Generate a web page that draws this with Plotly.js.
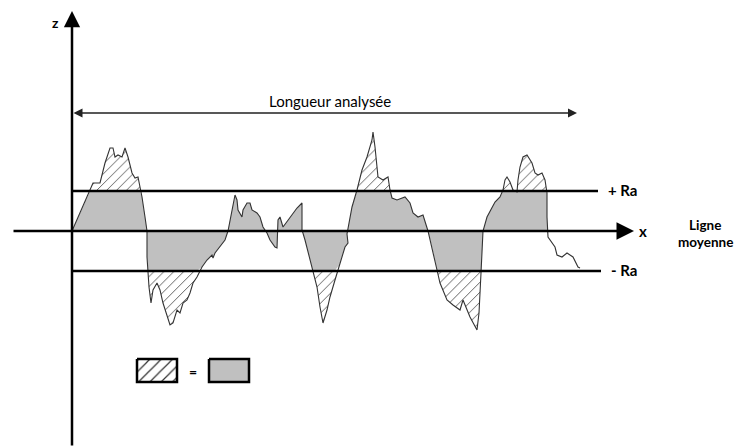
<!DOCTYPE html>
<html>
<head>
<meta charset="utf-8">
<script src="https://cdn.plot.ly/plotly-3.0.1.min.js"></script>
<style>html,body{margin:0;padding:0;background:#fff;}#chart{width:734px;height:447px;}</style>
</head>
<body>
<div id="chart"></div>
<script>
// Profile of the surface (x along the analysed length, z height vs. mean line)
const profileX = [0,18,21,28,33,38,41,43,46,50,53,56,60,63,66,68,70,73,75,75,76,77,79,81,85,88,91,95,98,101,105,108,111,115,118,121,125,130,135,140,141,143,148,153,156,158,161,163,165,166,170,171,175,178,180,185,188,191,195,198,203,205,206,208,211,218,225,230,230,233,238,241,245,248,251,255,258,263,268,273,276,275,280,285,290,295,300,301,303,306,311,316,318,320,325,333,338,341,346,351,356,360,365,368,375,381,388,391,398,405,407,409,411,415,420,423,428,431,433,435,438,441,445,446,448,451,455,460,463,466,470,473,475,475,476,480,483,485,490,495,501,506,508];
const profileZ = [0,41,48,48,68,83,83,74,76,74,83,74,58,53,54,44,34,14,0,-26,-39,-56,-72,-59,-52,-59,-72,-86,-94,-92,-79,-82,-72,-69,-62,-52,-46,-36,-29,-24,-27,-22,-16,-9,0,11,28,36,31,21,14,21,28,28,21,18,14,4,-2,-9,-16,-17,11,14,4,14,23,28,1,-9,-29,-42,-56,-76,-92,-79,-66,-49,-32,-16,-12,-3,24,41,61,74,91,99,84,54,51,54,41,33,31,34,28,18,14,16,0,-16,-39,-52,-69,-74,-79,-69,-86,-99,-82,-42,0,14,24,29,34,41,51,54,49,41,39,51,64,74,76,68,58,56,58,51,38,14,-6,-12,-16,-24,-26,-22,-26,-36,-37];
const RA = 40;                 // arithmetic mean roughness level
const fillEndX = 475;          // end of the shaded comparison zone
const analysedLength = [0, 505];
const textTitle = "Longueur analysée";
const labelPlusRa = "+ Ra";
const labelMinusRa = "- Ra";
const labelMean = ["Ligne", "moyenne"];

const idx = profileX.map((x,i)=>i).filter(i=>profileX[i] <= fillEndX);
const fx = idx.map(i=>profileX[i]);
const fz = idx.map(i=>profileZ[i]);
const clipped = fz.map(z=>Math.max(-RA, Math.min(RA, z)));
const base = fx.map(()=>0);

const traces = [
  {x: fx, y: base, mode:'lines', line:{width:0, color:'rgba(0,0,0,0)'}, hoverinfo:'skip', showlegend:false},
  {x: fx, y: clipped, mode:'lines', line:{width:0, color:'rgba(0,0,0,0)'}, fill:'tonexty', fillcolor:'#c0c0c0', hoverinfo:'skip', showlegend:false},
  {x: fx, y: fz, mode:'lines', line:{width:0, color:'rgba(0,0,0,0)'}, fill:'tonexty', fillcolor:'#ffffff',
   fillpattern:{shape:'/', fgcolor:'#555', bgcolor:'#ffffff', size:7, solidity:0.13}, hoverinfo:'skip', showlegend:false},
  {x: profileX, y: profileZ, mode:'lines', line:{width:1.1, color:'#333'}, hoverinfo:'skip', showlegend:false},
  // legend swatches
  {x:[65,105,105,65,65], y:[-128,-128,-151,-151,-128], mode:'lines', line:{width:2.5,color:'#000'}, fill:'toself', fillcolor:'#fff',
   fillpattern:{shape:'/', fgcolor:'#333', bgcolor:'#fff', size:8, solidity:0.15}, hoverinfo:'skip', showlegend:false},
  {x:[137,177,177,137,137], y:[-128,-128,-151,-151,-128], mode:'lines', line:{width:2.5,color:'#000'}, fill:'toself', fillcolor:'#c0c0c0', hoverinfo:'skip', showlegend:false}
];

const fnt = {family:'Lato, "Open Sans", sans-serif', size:14, color:'#000'};
const fntMean = {family:'Lato, "Open Sans", sans-serif', size:13.5, color:'#000'};
const layout = {
  width:734, height:447, margin:{l:0,r:0,t:0,b:0},
  paper_bgcolor:'#fff', plot_bgcolor:'#fff',
  xaxis:{range:[-72,662], visible:false, fixedrange:true},
  yaxis:{range:[-216,231], visible:false, fixedrange:true},
  shapes:[
    {type:'line', xref:'x', yref:'y', x0:0, x1:526, y0:RA, y1:RA, line:{color:'#000', width:2.5}, layer:'above'},
    {type:'line', xref:'x', yref:'y', x0:0, x1:529, y0:-RA, y1:-RA, line:{color:'#000', width:2.5}, layer:'above'}
  ],
  annotations:[
    // x axis (mean line)
    {x:562, y:0, ax:-60, ay:0, xref:'x', yref:'y', axref:'x', ayref:'y', showarrow:true, arrowhead:2, arrowsize:1.4, arrowwidth:2.5, arrowcolor:'#000', text:''},
    // z axis
    {x:0, y:220, ax:0, ay:-216, xref:'x', yref:'y', axref:'x', ayref:'y', showarrow:true, arrowhead:2, arrowsize:1.3, arrowwidth:2.5, arrowcolor:'#000', text:''},
    // analysed length double arrow
    {x:analysedLength[1], y:118, ax:analysedLength[0], ay:118, xref:'x', yref:'y', axref:'x', ayref:'y', showarrow:true, arrowhead:2, startarrowhead:2, arrowside:'end+start', arrowsize:1.2, startarrowsize:1.2, arrowwidth:1.5, arrowcolor:'#222', text:''},
    {x:258, y:130, xref:'x', yref:'y', showarrow:false, text:textTitle, font:Object.assign({}, fnt, {size:15})},
    {x:-17, y:209, xref:'x', yref:'y', showarrow:false, text:'<b>z</b>', font:fnt},
    {x:571, y:0, xref:'x', yref:'y', showarrow:false, text:'<b>x</b>', font:Object.assign({}, fnt, {size:15})},
    {x:550, y:41, xref:'x', yref:'y', showarrow:false, xanchor:'center', text:'<b>'+labelPlusRa+'</b>', font:Object.assign({}, fnt, {size:15})},
    {x:552, y:-39, xref:'x', yref:'y', showarrow:false, xanchor:'center', text:'<b>'+labelMinusRa+'</b>', font:Object.assign({}, fnt, {size:15})},
    {x:633, y:6, xref:'x', yref:'y', showarrow:false, text:'<b>'+labelMean[0]+'</b>', font:fntMean},
    {x:633, y:-11, xref:'x', yref:'y', showarrow:false, text:'<b>'+labelMean[1]+'</b>', font:fntMean},
    {x:121, y:-140, xref:'x', yref:'y', showarrow:false, text:'<b>=</b>', font:fnt}
  ]
};
Plotly.newPlot('chart', traces, layout, {staticPlot:true, displayModeBar:false});
</script>
</body>
</html>
